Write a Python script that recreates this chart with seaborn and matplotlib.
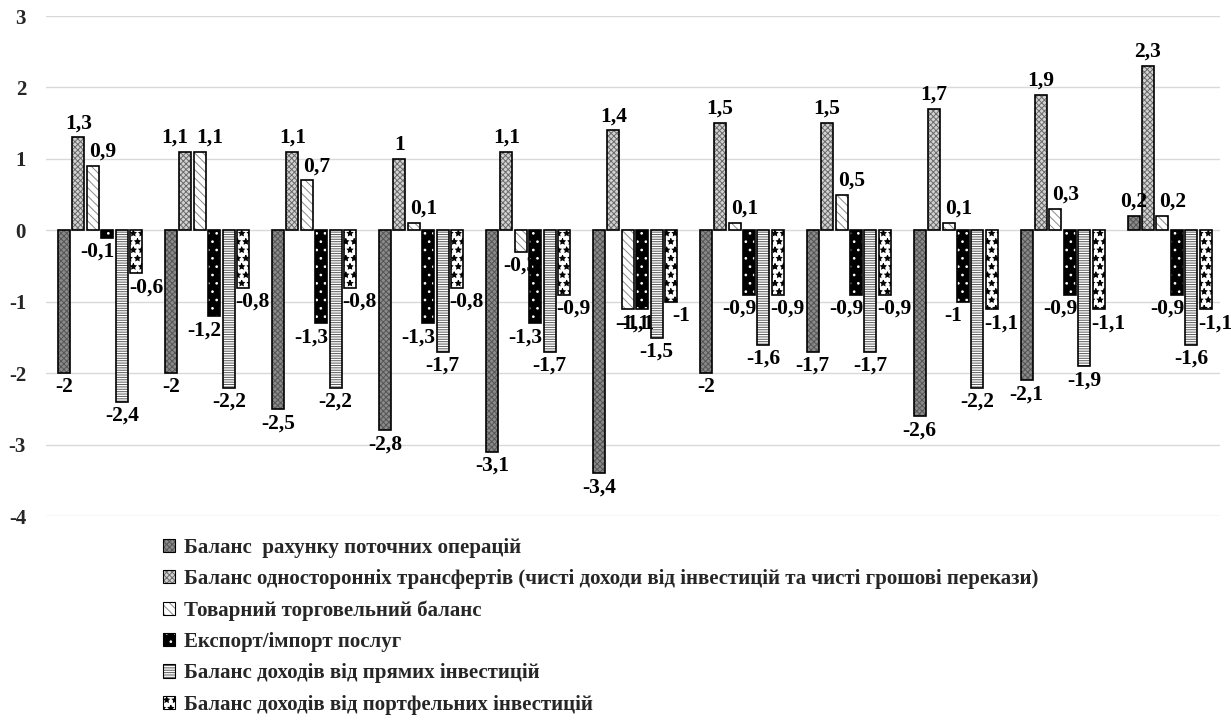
import matplotlib
matplotlib.use("Agg")
import numpy as np
import pandas as pd
import matplotlib.pyplot as plt
import seaborn as sns
from matplotlib.patches import Rectangle, Patch

# ─────────────────────────────────────────────
# Data (11 periods)
# ─────────────────────────────────────────────
series_names = [
    "Баланс  рахунку поточних операцій",
    "Баланс односторонніх трансфертів (чисті доходи від інвестицій та чисті грошові перекази)",
    "Товарний торговельний баланс",
    "Експорт/імпорт послуг",
    "Баланс доходів від прямих інвестицій",
    "Баланс доходів від портфельних інвестицій",
]
periods = [str(i) for i in range(1, 12)]

current_account = [-2, -2, -2.5, -2.8, -3.1, -3.4, -2, -1.7, -2.6, -2.1, 0.2]
transfers       = [1.3, 1.1, 1.1, 1, 1.1, 1.4, 1.5, 1.5, 1.7, 1.9, 2.3]
trade_balance   = [0.9, 1.1, 0.7, 0.1, -0.3, -1.1, 0.1, 0.5, 0.1, 0.3, 0.2]
services        = [-0.1, -1.2, -1.3, -1.3, -1.3, -1.1, -0.9, -0.9, -1, -0.9, -0.9]
direct_inv      = [-2.4, -2.2, -2.2, -1.7, -1.7, -1.5, -1.6, -1.7, -2.2, -1.9, -1.6]
portfolio_inv   = [-0.6, -0.8, -0.8, -0.8, -0.9, -1, -0.9, -0.9, -1.1, -1.1, -1.1]

y_ticks = [-4, -3, -2, -1, 0, 1, 2, 3]

all_series = [current_account, transfers, trade_balance,
              services, direct_inv, portfolio_inv]
df = pd.DataFrame({
    "period": np.tile(periods, len(series_names)),
    "series": np.repeat(series_names, len(periods)),
    "value": np.concatenate(all_series),
})

# face colour, hatch, hatch colour for each series
styles = [
    ("#8a8a8a", "xxxxxx", "#555555"),
    ("#d2d2d2", "xxxxxx", "#6a6a6a"),
    ("white",   "\\\\\\\\", "#8a8a8a"),
    ("black",   "..",     "white"),
    ("white",   "-------", "#5a5a5a"),
    ("white",   "**",     "black"),
]
# horizontal nudge of the value labels per series (points), like the reference
label_dx = [0, 0, 7, -7, 0, 7]

# ─────────────────────────────────────────────
# Plot
# ─────────────────────────────────────────────
sns.set_theme(style="white")
plt.rcParams["font.family"] = ["Liberation Serif", "DejaVu Serif"]
plt.rcParams["font.weight"] = "bold"
plt.rcParams["axes.unicode_minus"] = False
plt.rcParams["hatch.linewidth"] = 0.7

fig = plt.figure(figsize=(12.31, 7.28), dpi=100)
ax = fig.add_axes([0.037, 0.291, 0.954, 0.687])

sns.barplot(
    data=df, x="period", y="value", hue="series",
    hue_order=series_names, order=periods,
    width=0.81, gap=0.17, legend=False, ax=ax,
    palette=["white"] * len(series_names),
)

def fmt_label(v):
    return f"{v:g}".replace(".", ",")

for i, (container, (face, hatch, hcol)) in enumerate(zip(ax.containers, styles)):
    for p in container:
        p.set_facecolor(face)
        p.set_hatch(hatch)
        p.set_edgecolor(hcol)
        p.set_linewidth(0)
        ax.add_patch(Rectangle(p.get_xy(), p.get_width(), p.get_height(),
                               fill=False, edgecolor="black", lw=1.2, zorder=2))
    texts = ax.bar_label(container, fmt=fmt_label, padding=3,
                         fontsize=15.5, fontweight="bold", color="black")
    for j, t in enumerate(texts):
        dx = label_dx[i]
        # second period: the two 1,1 labels are pushed apart
        if i == 1 and j == 1:
            dx = -8
        # fifth period: the -0,3 label sits centred, half hidden by the black bar
        if i == 2 and j == 4:
            dx = 0
        x0, y0 = t.xyann
        t.xyann = (x0 + dx, y0)

ax.set_ylim(-4, 3)
ax.set_xlim(-0.51, 10.47)
ax.set_yticks(y_ticks)
ax.set_yticklabels([str(t) for t in y_ticks], fontsize=15, fontweight="bold")
ax.set_xticks([])
ax.set_xlabel("")
ax.set_ylabel("")
ax.yaxis.grid(True, color="#d9d9d9", lw=1)
ax.set_axisbelow(True)
ax.tick_params(axis="y", length=0, pad=14)
sns.despine(ax=ax, left=True, bottom=True)

# legend with hatched squares
handles = []
for face, hatch, hcol in styles:
    h1 = Patch(facecolor=face, hatch=hatch, edgecolor=hcol, linewidth=0)
    h2 = Patch(facecolor="none", edgecolor="black", linewidth=0.8)
    handles.append((h1, h2))

fig.legend(handles, series_names, loc="upper left",
           bbox_to_anchor=(0.117, 0.287), frameon=False,
           fontsize=15, handlelength=0.6, handleheight=0.6,
           handletextpad=0.4, labelspacing=0.54)

fig.savefig("out.png", dpi=100)
